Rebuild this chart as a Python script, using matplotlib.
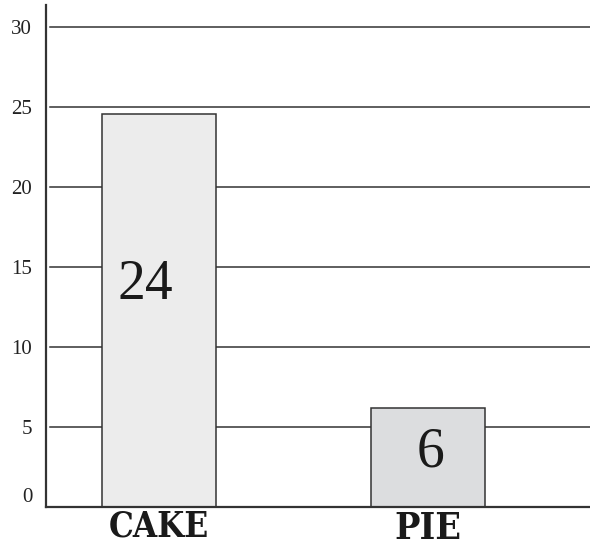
import matplotlib.pyplot as plt

# values (bar heights) and the numbers printed in the bars
categories = ["CAKE", "PIE"]
bar_heights = [24.6, 6.2]
bar_labels = ["24", "6"]
bar_colors = ["#ececec", "#dcdddf"]
label_levels = [13.9, 3.4]
yticks = [0, 5, 10, 15, 20, 25, 30]

fig = plt.figure(figsize=(5.9, 5.5), dpi=100)
ax = fig.add_axes([0.078, 0.078, 0.922, 0.913])
fig.patch.set_facecolor("white")

ax.set_xlim(-0.42, 1.602)
ax.set_ylim(0, 31.4)

ink = "#333333"

# horizontal rules (not touching the left spine)
for t in yticks[1:]:
  ax.axhline(t, xmin=0.008, xmax=1.0, color=ink, lw=1.1, zorder=1)

xs = list(range(len(categories)))
ax.bar(xs, bar_heights, width=0.424, color=bar_colors,
       edgecolor=ink, linewidth=1.1, zorder=2)

for x, lab, lv in zip(xs, bar_labels, label_levels):
  ax.text(x - 0.05 if lab == "24" else x + 0.01, lv, lab, ha="center", va="center",
          fontsize=40, family="Liberation Serif", color="#1a1a1a", zorder=3)

# spines
for s in ["top", "right"]:
  ax.spines[s].set_visible(False)
ax.spines["left"].set_linewidth(1.6)
ax.spines["bottom"].set_linewidth(1.6)
ax.spines["left"].set_color(ink)
ax.spines["bottom"].set_color(ink)

ax.set_yticks(yticks)
ax.set_yticklabels([str(t) for t in yticks], family="Liberation Serif",
                   fontsize=15, color="#222222")
ax.tick_params(axis="y", length=0, pad=10)
for lbl in ax.get_yticklabels():
  if lbl.get_text() == "0":
    lbl.set_va("bottom")

ax.set_xticks(xs)
ax.set_xticklabels([])
ax.tick_params(axis="x", length=0)

# category names in heavy slab-serif type under the bars
ax.text(0, -0.004, categories[0], transform=ax.get_xaxis_transform(),
        ha="center", va="top", fontsize=25, fontweight="bold",
        fontstretch="condensed", family="DejaVu Serif", color="#1a1a1a")
ax.text(1, -0.006, categories[1], transform=ax.get_xaxis_transform(),
        ha="center", va="top", fontsize=27, fontweight="bold",
        fontstretch="condensed", family="DejaVu Serif", color="#1a1a1a")

fig.savefig("out.png", dpi=100, facecolor="white")
